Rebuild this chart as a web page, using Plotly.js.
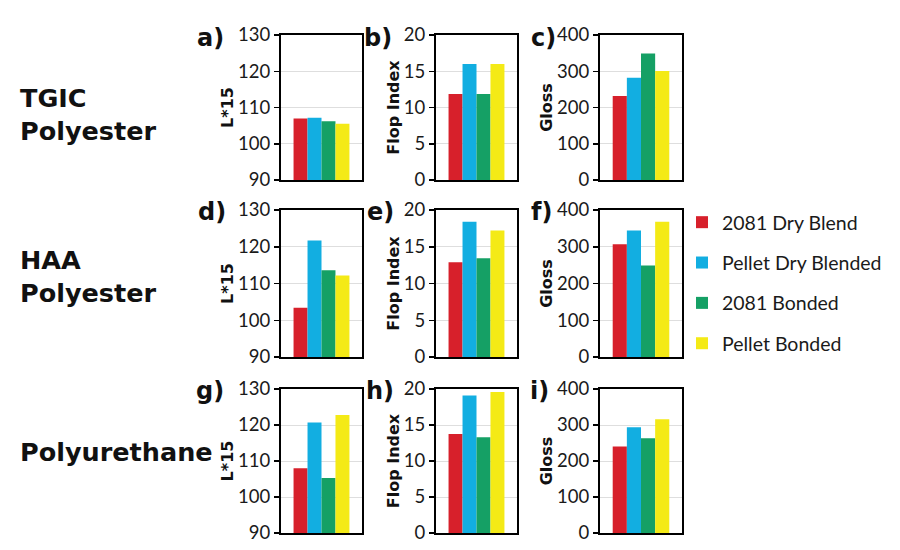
<!DOCTYPE html>
<html>
<head>
<meta charset="utf-8">
<script src="https://cdn.plot.ly/plotly-3.0.1.min.js"></script>
<style>html,body{margin:0;padding:0;background:#fff;}</style>
</head>
<body>
<div id="chart" style="width:900px;height:550px;"></div>
<script>
// ---- data ----
const categories = [""];
const seriesNames = ["2081 Dry Blend", "Pellet Dry Blended", "2081 Bonded", "Pellet Bonded"];
const seriesColors = ["#d7202b", "#12aee1", "#15a065", "#f4ea16"];
const rowLabels = ["TGIC<br>Polyester", "HAA<br>Polyester", "Polyurethane"];
const panelLabels = ["a)", "b)", "c)", "d)", "e)", "f)", "g)", "h)", "i)"];
const metricTitles = ["L*15", "Flop Index", "Gloss"];
const l15Range = [90, 130];
const flopRange = [0, 20];
const glossRange = [0, 400];

const tgicL15 = [107.0, 107.2, 106.2, 105.5];
const tgicFlop = [11.85, 16.0, 11.85, 16.0];
const tgicGloss = [232, 282, 349, 301];
const haaL15 = [103.4, 121.7, 113.6, 112.2];
const haaFlop = [12.9, 18.4, 13.45, 17.2];
const haaGloss = [307, 344, 249, 368];
const puL15 = [108.0, 120.7, 105.3, 122.8];
const puFlop = [13.75, 19.1, 13.3, 19.6];
const puGloss = [240, 294, 263, 316];

// ---- layout geometry (pixels) ----
const W = 900, H = 550;
const colPx = [[281, 362], [436, 517], [600, 682]];
const rowPx = [[35, 180], [210, 357], [389, 533]];
const panelData = [
  [tgicL15, tgicFlop, tgicGloss],
  [haaL15, haaFlop, haaGloss],
  [puL15, puFlop, puGloss]
];
const ranges = [l15Range, flopRange, glossRange];
const dticks = [10, 5, 100];
const labelPos = [[226, 394, 558], [228, 396, 554], [226, 396, 551]];
const labelY = [38, 212, 391];
const rowLabelY = [114, 276, 452];

const tickFont = {family: "Lato, 'Open Sans', sans-serif", size: 18.5, color: "#1a1a1a"};
const boldFont = "'DejaVu Sans', sans-serif";

const traces = [];
const layout = {
  width: W, height: H, autosize: false,
  margin: {l: 0, r: 0, t: 0, b: 0},
  paper_bgcolor: "#fff", plot_bgcolor: "#fff",
  barmode: "group", bargap: 0.31, bargroupgap: 0,
  showlegend: true,
  legend: {
    x: 682 / W, xanchor: "left", y: 1 - 203 / H, yanchor: "top",
    traceorder: "grouped", tracegroupgap: 12,
    font: {family: "Lato, sans-serif", size: 19.5, color: "#1a1a1a"},
    bgcolor: "rgba(0,0,0,0)"
  },
  annotations: [],
  font: tickFont
};

let n = 0;
for (let r = 0; r < 3; r++) {
  for (let c = 0; c < 3; c++) {
    n++;
    const sfx = n === 1 ? "" : String(n);
    const vals = panelData[r][c];
    for (let s = 0; s < 4; s++) {
      traces.push({
        type: "bar", x: categories, y: [vals[s]],
        xaxis: "x" + sfx, yaxis: "y" + sfx,
        name: seriesNames[s], legendgroup: seriesNames[s],
        showlegend: n === 1,
        marker: {color: seriesColors[s], line: {width: 0}},
        hoverinfo: "y+name"
      });
    }
    layout["xaxis" + sfx] = {
      domain: [colPx[c][0] / W, colPx[c][1] / W],
      anchor: "y" + sfx, range: [-0.5, 0.5],
      showticklabels: false, ticks: "", showgrid: false, zeroline: false,
      showline: true, linecolor: "#000", linewidth: 2, mirror: true, fixedrange: true
    };
    layout["yaxis" + sfx] = {
      domain: [1 - rowPx[r][1] / H, 1 - rowPx[r][0] / H],
      anchor: "x" + sfx, range: ranges[c], dtick: dticks[c], tick0: 0,
      ticks: "outside", ticklen: 5, tickwidth: 1.5, tickcolor: "#000",
      showgrid: true, gridcolor: "#dedede", gridwidth: 1, zeroline: false,
      showline: true, linecolor: "#000", linewidth: 2, mirror: true,
      tickfont: tickFont, fixedrange: true,
      title: {text: metricTitles[c], standoff: 0,
              font: {family: boldFont, size: 16, color: "#111", weight: "bold"}}
    };
    layout.annotations.push({
      text: "<b>" + panelLabels[n - 1] + "</b>", xref: "paper", yref: "paper",
      x: labelPos[r][c] / W, y: 1 - labelY[r] / H, xanchor: "right", yanchor: "middle",
      showarrow: false, font: {family: boldFont, size: 24, color: "#111"}
    });
  }
  layout.annotations.push({
    text: "<b>" + rowLabels[r] + "</b>", xref: "paper", yref: "paper",
    x: 18 / W, y: 1 - rowLabelY[r] / H, xanchor: "left", yanchor: "middle", align: "left",
    showarrow: false, font: {family: boldFont, size: 25.5, color: "#111"}
  });
}

Plotly.newPlot("chart", traces, layout, {displayModeBar: false, staticPlot: true});
</script>
</body>
</html>
